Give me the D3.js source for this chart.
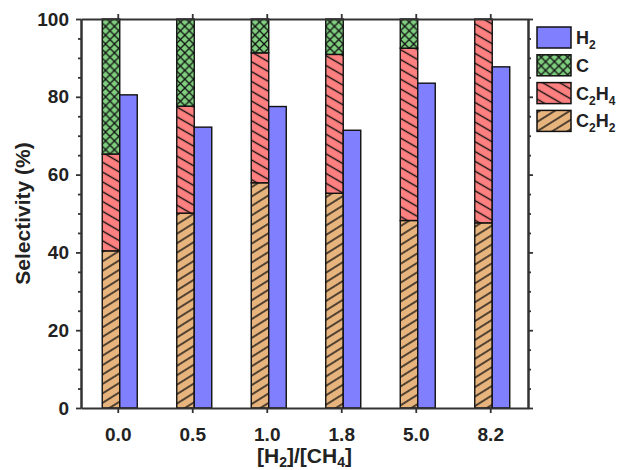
<!DOCTYPE html>
<html>
<head>
<meta charset="utf-8">
<script src="https://cdn.jsdelivr.net/npm/d3@7"></script>
<style>
  body { margin: 0; background: #fff; }
  text { font-family: "Liberation Sans", Arial, sans-serif; font-weight: bold; fill: #222; }
</style>
</head>
<body>
<div id="canvas"></div>
<script>
// data
const ratios = ["0.0", "0.5", "1.0", "1.8", "5.0", "8.2"];
const c2h2 = [40.4, 50.1, 57.9, 55.2, 48.2, 47.6];
const c2h4 = [24.9, 27.5, 33.4, 35.7, 44.3, 52.4];
const carbon = [34.7, 22.4, 8.7, 9.1, 7.5, 0];
const h2 = [80.5, 72.2, 77.5, 71.4, 83.5, 87.7];
const yMajor = [0, 20, 40, 60, 80, 100];

const W = 617, H = 470;
const plotLeft = 81, plotRight = 528, plotTop = 19, plotBottom = 408;

let svg = d3.select("#canvas").append("svg")
  .attr("width", W).attr("height", H);

// hatch patterns
let defs = svg.append("defs");
function hatch(id, fill, angle, gap) {
  let p = defs.append("pattern")
    .attr("id", id)
    .attr("patternUnits", "userSpaceOnUse")
    .attr("width", 20).attr("height", gap)
    .attr("patternTransform", "rotate(" + angle + ")");
  p.append("rect").attr("width", 20).attr("height", gap).attr("fill", fill);
  p.append("line").attr("x1", 0).attr("x2", 20)
    .attr("y1", gap / 2).attr("y2", gap / 2)
    .attr("stroke", "#111").attr("stroke-width", 1.4);
}
hatch("hC2H2", "#e8b47e", -32, 8);
hatch("hC2H4", "#ff8080", 30, 8.5);

let cross = defs.append("pattern")
  .attr("id", "hC")
  .attr("patternUnits", "userSpaceOnUse")
  .attr("width", 8.8).attr("height", 8.8);
cross.append("rect").attr("width", 8.8).attr("height", 8.8).attr("fill", "#7fcf7f");
cross.append("path").attr("d", "M0,0L8.8,8.8M8.8,0L0,8.8")
  .attr("stroke", "#111").attr("stroke-width", 1.3);

const fills = { C2H2: "url(#hC2H2)", C2H4: "url(#hC2H4)", C: "url(#hC)", H2: "#8080ff" };

let x = d3.scaleBand().domain(ratios).range([plotLeft, plotRight]).padding(0);
let y = d3.scaleLinear().domain([0, 100]).range([plotBottom, plotTop]);

let table = ratios.map((r, i) => ({ ratio: r, C2H2: c2h2[i], C2H4: c2h4[i], C: carbon[i], H2: h2[i] }));
let series = d3.stack().keys(["C2H2", "C2H4", "C"])(table);

const barW = 17.5;
const center = d => x(d) + x.bandwidth() / 2;

// stacked bars
svg.append("g").selectAll("g")
  .data(series)
  .join("g")
  .attr("fill", s => fills[s.key])
  .selectAll("rect")
  .data(s => s.filter(d => d[1] - d[0] > 0))
  .join("rect")
  .attr("x", d => center(d.data.ratio) - 16)
  .attr("y", d => y(d[1]))
  .attr("width", barW)
  .attr("height", d => y(d[0]) - y(d[1]))
  .attr("stroke", "#111").attr("stroke-width", 1.4);

// H2 bars
svg.append("g").selectAll("rect")
  .data(table)
  .join("rect")
  .attr("x", d => center(d.ratio) + 1.5)
  .attr("y", d => y(d.H2))
  .attr("width", barW)
  .attr("height", d => y(0) - y(d.H2))
  .attr("fill", fills.H2)
  .attr("stroke", "#111").attr("stroke-width", 1.4);

// axes
const minor = d3.range(0, 101, 5).filter(v => v % 20 !== 0);
function styleAxis(g) {
  g.select(".domain").attr("stroke", "#333").attr("stroke-width", 2);
  g.selectAll(".tick line").attr("stroke", "#333").attr("stroke-width", 1.8);
}

let yAxis = svg.append("g").attr("transform", `translate(${plotLeft},0)`)
  .call(d3.axisLeft(y).tickValues(yMajor).tickSize(5).tickSizeOuter(0).tickPadding(7));
styleAxis(yAxis);
yAxis.selectAll(".tick text").style("font-size", "19px").attr("fill", "#222");
let yMinor = svg.append("g").attr("transform", `translate(${plotLeft},0)`)
  .call(d3.axisLeft(y).tickValues(minor).tickSize(3).tickSizeOuter(0).tickFormat(""));
styleAxis(yMinor);

let rAxis = svg.append("g").attr("transform", `translate(${plotRight},0)`)
  .call(d3.axisRight(y).tickValues(yMajor).tickSize(5).tickSizeOuter(0).tickFormat(""));
styleAxis(rAxis);
let rMinor = svg.append("g").attr("transform", `translate(${plotRight},0)`)
  .call(d3.axisRight(y).tickValues(minor).tickSize(3).tickSizeOuter(0).tickFormat(""));
styleAxis(rMinor);

let xAxis = svg.append("g").attr("transform", `translate(0,${plotBottom})`)
  .call(d3.axisBottom(x).tickSize(5).tickSizeOuter(0).tickPadding(15));
styleAxis(xAxis);
xAxis.selectAll(".tick text").style("font-size", "19px").attr("fill", "#222");

let tAxis = svg.append("g").attr("transform", `translate(0,${plotTop})`)
  .call(d3.axisTop(x).tickSize(5).tickSizeOuter(0).tickFormat(""));
styleAxis(tAxis);

// axis titles
svg.append("text")
  .attr("transform", `translate(30,${(plotTop + plotBottom) / 2}) rotate(-90)`)
  .attr("text-anchor", "middle")
  .style("font-size", "21px")
  .text("Selectivity (%)");

let xt = svg.append("text")
  .attr("x", (plotLeft + plotRight) / 2).attr("y", 463)
  .attr("text-anchor", "middle")
  .style("font-size", "21px");
xt.append("tspan").text("[H");
xt.append("tspan").attr("dy", 4).style("font-size", "14px").text("2");
xt.append("tspan").attr("dy", -4).text("]/[CH");
xt.append("tspan").attr("dy", 4).style("font-size", "14px").text("4");
xt.append("tspan").attr("dy", -4).text("]");

// legend
const legendItems = [
  { key: "H2", parts: [["H", 0], ["2", 1]] },
  { key: "C", parts: [["C", 0]] },
  { key: "C2H4", parts: [["C", 0], ["2", 1], ["H", 0], ["4", 1]] },
  { key: "C2H2", parts: [["C", 0], ["2", 1], ["H", 0], ["2", 1]] }
];
let legend = svg.append("g");
legendItems.forEach((item, i) => {
  let gy = 27 + i * 27.8;
  legend.append("rect")
    .attr("x", 537).attr("y", gy)
    .attr("width", 34).attr("height", 21)
    .attr("fill", fills[item.key])
    .attr("stroke", "#111").attr("stroke-width", 1.5);
  let t = legend.append("text")
    .attr("x", 576).attr("y", gy + 17)
    .style("font-size", "18px");
  let down = false;
  item.parts.forEach(([s, sub]) => {
    let tp = t.append("tspan").text(s);
    if (sub && !down) { tp.attr("dy", 5).style("font-size", "12px"); down = true; }
    else if (!sub && down) { tp.attr("dy", -5); down = false; }
  });
});
</script>
</body>
</html>
